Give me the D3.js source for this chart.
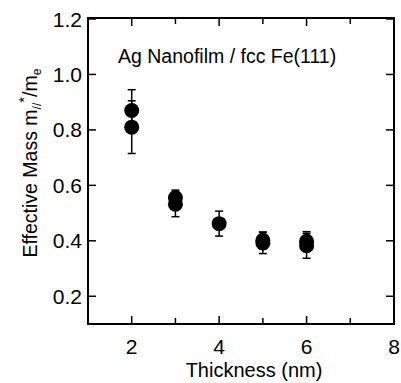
<!DOCTYPE html>
<html><head><meta charset="utf-8">
<script src="https://cdn.jsdelivr.net/npm/d3@7"></script>
<style>body{margin:0;background:#fff}svg{display:block}text{font-family:"Liberation Sans",Arial,Helvetica,sans-serif;fill:#000}</style>
</head><body>
<svg id="c" width="401" height="383"></svg>
<script>
const thickness = [2, 2, 3, 3, 4, 5, 5, 6, 6];
const mass      = [0.87, 0.81, 0.555, 0.532, 0.462, 0.402, 0.392, 0.398, 0.382];
const errs      = [0.075, 0.095, 0.028, 0.045, 0.045, 0.03, 0.038, 0.035, 0.045];
const xTickVals = [2, 3, 4, 5, 6, 7, 8];
const xTickLabels = ["2", "", "4", "", "6", "", "8"];
const yTickVals = [0.2, 0.4, 0.6, 0.8, 1.0, 1.2];
const yTickLabels = ["0.2", "0.4", "0.6", "0.8", "1.0", "1.2"];

const L = 88, R = 394, T = 18, B = 324;
const svg = d3.select("#c");
const x = d3.scaleLinear().domain([1, 8]).range([L, R]);
const y = d3.scaleLinear().domain([0.1, 1.2]).range([B, T + 1]);

const g = svg.append("g");
xTickVals.forEach((v, i) => {
  const len = xTickLabels[i] ? 8 : 6;
  g.append("line").attr("x1", x(v)).attr("x2", x(v)).attr("y1", B).attr("y2", B - len).attr("stroke", "#000").attr("stroke-width", 1.5);
  g.append("line").attr("x1", x(v)).attr("x2", x(v)).attr("y1", T).attr("y2", T + len).attr("stroke", "#000").attr("stroke-width", 1.5);
  if (xTickLabels[i]) g.append("text").attr("x", x(v)).attr("y", 354).attr("text-anchor", "middle").attr("font-size", 21).text(xTickLabels[i]);
});
yTickVals.forEach((v, i) => {
  g.append("line").attr("x1", L).attr("x2", L + 8).attr("y1", y(v)).attr("y2", y(v)).attr("stroke", "#000").attr("stroke-width", 1.5);
  g.append("line").attr("x1", R).attr("x2", R - 8).attr("y1", y(v)).attr("y2", y(v)).attr("stroke", "#000").attr("stroke-width", 1.5);
  g.append("text").attr("x", 82).attr("y", y(v) + 7.5).attr("text-anchor", "end").attr("font-size", 21).text(yTickLabels[i]);
});

svg.append("rect").attr("x", L).attr("y", T).attr("width", R - L).attr("height", B - T)
  .attr("fill", "none").attr("stroke", "#000").attr("stroke-width", 2);

const eb = svg.append("g").attr("stroke", "#000").attr("stroke-width", 1.5);
thickness.forEach((t, i) => {
  const cx = x(t), y1 = y(mass[i] + errs[i]), y2 = y(mass[i] - errs[i]);
  eb.append("line").attr("x1", cx).attr("x2", cx).attr("y1", y1).attr("y2", y2);
  eb.append("line").attr("x1", cx - 4).attr("x2", cx + 4).attr("y1", y1).attr("y2", y1);
  eb.append("line").attr("x1", cx - 4).attr("x2", cx + 4).attr("y1", y2).attr("y2", y2);
});
svg.append("g").selectAll("circle").data(thickness).join("circle")
  .attr("cx", d => x(d)).attr("cy", (d, i) => y(mass[i])).attr("r", 7.5).attr("fill", "#000");

svg.append("text").attr("x", 118).attr("y", 63).attr("font-size", 19.5).text("Ag Nanofilm / fcc Fe(111)");

svg.append("text").attr("x", 254).attr("y", 377).attr("text-anchor", "middle").attr("font-size", 20).text("Thickness (nm)");

const yt = svg.append("text").attr("transform", "translate(37,163) rotate(-90)").attr("text-anchor", "middle").attr("font-size", 19.5);
yt.append("tspan").text("Effective Mass m");
yt.append("tspan").attr("font-size", 12).attr("dy", 4).text("//");
yt.append("tspan").attr("font-size", 15).attr("dy", -12).text("*");
yt.append("tspan").attr("dy", 8).text("/m");
yt.append("tspan").attr("font-size", 12).attr("dy", 4).text("e");
</script>
</body></html>
